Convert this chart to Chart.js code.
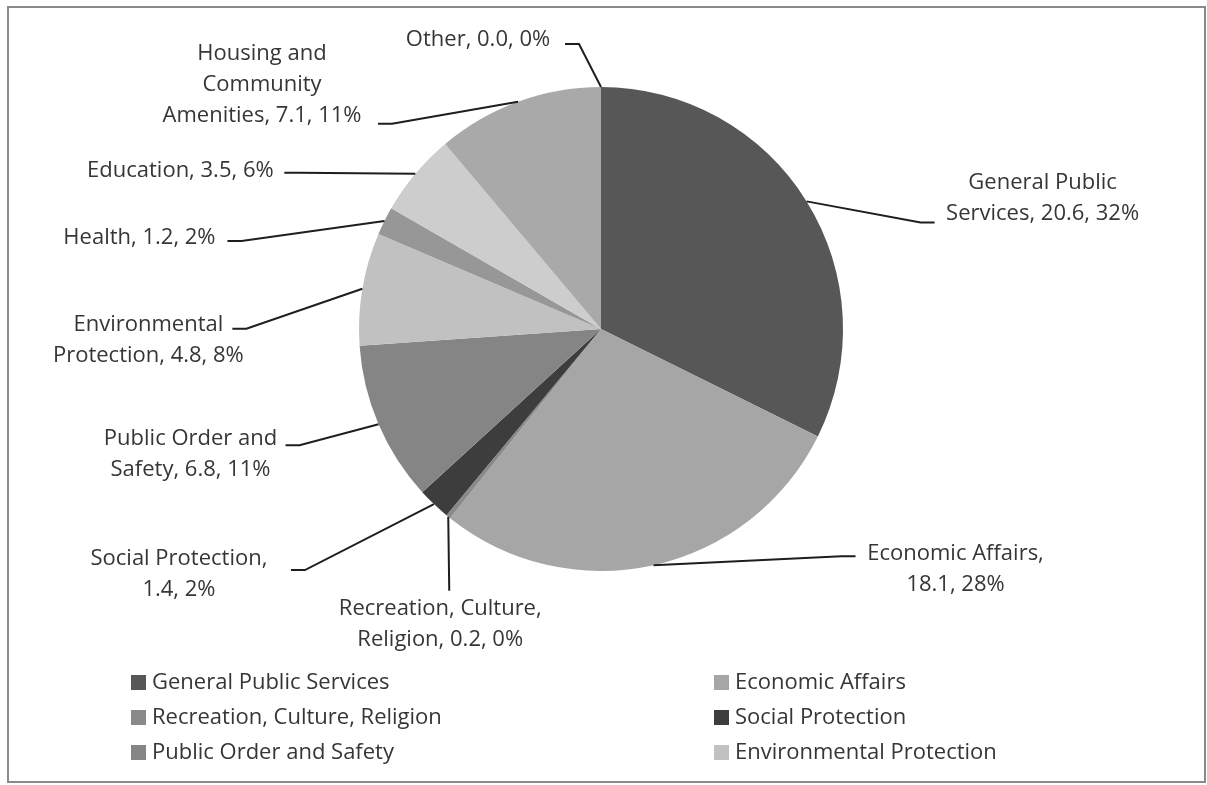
<!DOCTYPE html>
<html>
<head>
<meta charset="utf-8">
<script src="https://cdn.jsdelivr.net/npm/chart.js@4"></script>
<style>
  html, body { margin: 0; padding: 0; background: #ffffff; }
  #wrap { position: relative; width: 1207px; height: 785px; }
  #frame {
    position: absolute; left: 7px; top: 6px; width: 1199px; height: 777px;
    box-sizing: border-box; border: 2px solid #8a8a8a;
  }
  canvas { position: absolute; left: 0; top: 0; }
</style>
</head>
<body>
<div id="wrap">
  <div id="frame"></div>
  <canvas id="spending" width="1207" height="785"></canvas>
</div>
<script>
// spending by function, clockwise from 12 o'clock
var categories = [
  "General Public Services",
  "Economic Affairs",
  "Recreation, Culture, Religion",
  "Social Protection",
  "Public Order and Safety",
  "Environmental Protection",
  "Health",
  "Education",
  "Housing and Community Amenities",
  "Other"
];
var values = [20.6, 18.1, 0.2, 1.4, 6.8, 4.8, 1.2, 3.54, 7.1, 0.0];
var sliceColors = [
  "#575757", "#a6a6a6", "#8a8a8a", "#3d3d3d", "#858585",
  "#c1c1c1", "#979797", "#cdcdcd", "#a9a9a9", "#6e6e6e"
];
// words per line for each slice label
var labelWrap = [[2, 3], [2, 2], [2, 3], [2, 2], [3, 3], [1, 3], [3], [3], [2, 1, 3], [3]];
// label block centre and leader end, offset from the slice's outer midpoint
var labelOffset = [
  [236, -3], [302, 4], [-8, 108], [-255, 70], [-188, 30],
  [-214, 51], [-245, 17], [-235, -3], [-256, -17], [-123, -47]
];
var leaderOffset = [
  [128, 21], [202, -9], [1, 74], [-143, 66], [-93, 21],
  [-130, 40], [-157, 20], [-131, -1], [-140, 22], [-36, -43]
];
var legendCount = 6;

var FONT = "22px 'Open Sans'";
var TEXT = "#363636";
var LINE_H = 31;

var total = values.reduce(function (a, b) { return a + b; }, 0);

function labelLines(i) {
  var pct = Math.round(values[i] / total * 100);
  var words = (categories[i] + ", " + values[i].toFixed(1) + ", " + pct + "%").split(" ");
  var lines = [], k = 0;
  labelWrap[i].forEach(function (n) {
    lines.push(words.slice(k, k + n).join(" "));
    k += n;
  });
  return lines;
}

var sliceLabels = {
  id: "sliceLabels",
  afterDraw: function (chart) {
    var ctx = chart.ctx;
    var arcs = chart.getDatasetMeta(0).data;
    ctx.save();
    ctx.font = FONT;
    ctx.fillStyle = TEXT;
    ctx.textAlign = "center";
    ctx.textBaseline = "middle";
    arcs.forEach(function (arc, i) {
      var p = arc.getProps(["x", "y", "startAngle", "endAngle", "outerRadius"], true);
      var mid = (p.startAngle + p.endAngle) / 2;
      var ex = p.x + p.outerRadius * Math.cos(mid);
      var ey = p.y + p.outerRadius * Math.sin(mid);
      var lx = ex + leaderOffset[i][0], ly = ey + leaderOffset[i][1];
      // leader: slanted run then a short horizontal tail into the label
      ctx.strokeStyle = "#1e1e1e";
      ctx.lineWidth = 2;
      ctx.beginPath();
      ctx.moveTo(ex, ey);
      if (Math.abs(lx - ex) > 20) {
        var tail = lx > ex ? -14 : 14;
        ctx.lineTo(lx + tail, ly);
      }
      ctx.lineTo(lx, ly);
      ctx.stroke();

      var lines = labelLines(i);
      var cx = ex + labelOffset[i][0], cy = ey + labelOffset[i][1];
      var top = cy - (lines.length - 1) * LINE_H / 2;
      lines.forEach(function (s, j) {
        ctx.fillText(s, cx, top + j * LINE_H);
      });
    });

    // two-column legend, first rows only
    ctx.textAlign = "left";
    var colX = [131, 714], rowY = 682, rowH = 35;
    for (var i = 0; i < legendCount; i++) {
      var x = colX[i % 2], y = rowY + Math.floor(i / 2) * rowH;
      ctx.fillStyle = sliceColors[i];
      ctx.fillRect(x, y - 7, 15, 15);
      ctx.fillStyle = TEXT;
      ctx.fillText(categories[i], x + 21, y + 1);
    }
    ctx.restore();
  }
};

new Chart(document.getElementById("spending"), {
  type: "pie",
  data: {
    labels: categories,
    datasets: [{
      data: values,
      backgroundColor: sliceColors,
      borderWidth: 0
    }]
  },
  options: {
    responsive: false,
    animation: false,
    layout: { padding: { top: 87, bottom: 214, left: 100, right: 105 } },
    plugins: {
      legend: { display: false },
      tooltip: { enabled: false }
    },
    events: []
  },
  plugins: [sliceLabels]
});
</script>
</body>
</html>
